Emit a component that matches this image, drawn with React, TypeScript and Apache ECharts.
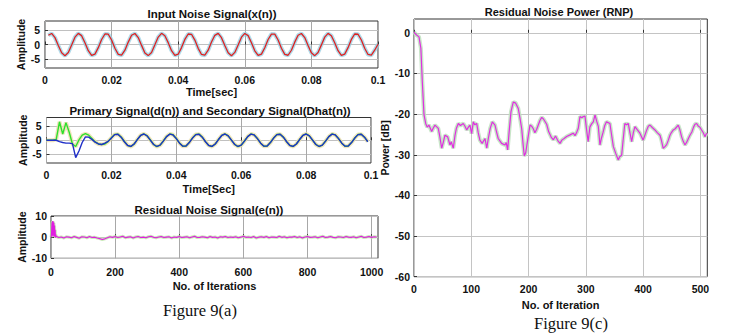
import React, { useEffect, useRef } from "react";
import * as echarts from "echarts";

// ---------- data ----------
// Input noise x(n), samples n = 1..100 (t = n/1000 s)
const inputNoise = [
  3.13, 3.76, 2.34, -0.34, -2.84, -3.8, -2.7, -0.14, 2.5, 3.78, 3.01, 0.61, -2.12, -3.71, -3.28, -1.08, 1.71, 3.57, 3.5, 1.53, -1.27, -3.38, -3.65, -1.95, 0.81,
  3.15, 3.74, 2.36, -0.3, -2.86, -3.78, -2.72, -0.12, 2.52, 3.8, 3.0, 0.63, -2.1, -3.72, -3.3, -1.06, 1.73, 3.58, 3.48, 1.5, -1.3, -3.4, -3.64, -1.93, 0.83,
  3.12, 3.77, 2.33, -0.35, -2.83, -3.81, -2.69, -0.15, 2.49, 3.77, 3.02, 0.6, -2.13, -3.7, -3.27, -1.09, 1.7, 3.56, 3.51, 1.54, -1.26, -3.37, -3.66, -1.96, 0.8,
  3.14, 3.75, 2.35, -0.32, -2.85, -3.79, -2.71, -0.13, 2.51, 3.79, 3.0, 0.62, -2.11, -3.71, -3.29, -1.07, 1.72, 3.57, 3.49, 1.52, -1.28, -3.39, -3.65, -1.94, 0.1,
];
// Primary signal d(n) (green), samples n = 0..99
const primarySignal = [
  0, 0, 0, 0.3, 6.5, 2.2, 6.2, 2.8, -1.3, -2.2, 0.1, 1.8, 2.3, 1.8, 0.6, -0.6, -1.3, -1.5, -1.3, -0.4,
  0.85, 2.05, 2.15, 1.15, -0.45,
  -1.8, -2.22, -1.35, 0.3, 1.72, 2.25, 1.58, 0.08, -1.45, -2.24, -1.75, -0.25, 1.32, 2.2, 1.92, 0.62, -1.0, -2.12, -2.05, -0.78, 0.83, 2.03, 2.15, 1.12, -0.48,
  -1.82, -2.2, -1.33, 0.28, 1.7, 2.23, 1.56, 0.06, -1.47, -2.22, -1.74, -0.27, 1.3, 2.19, 1.9, 0.6, -1.02, -2.1, -2.03, -0.8, 0.81, 2.01, 2.13, 1.1, -0.5,
  -1.83, -2.19, -1.32, 0.27, 1.71, 2.22, 1.55, 0.05, -1.48, -2.21, -1.73, -0.28, 1.29, 2.18, 1.89, 0.59, -1.03, -2.09, -2.02, -0.81, 0.8, 2.0, 2.12, 1.09, -0.51,
];
// Secondary signal Dhat(n) (blue), samples n = 0..99
const secondarySignal = [
  0, 0, 0, 0, -0.5, -0.8, -1.0, -1.0, -1.2, -6.1, -3.8, -0.8, 1.2, 1.1, 0.3, -0.7, -1.3, -1.5, -1.0, -0.4,
  0.78, 1.98, 2.1, 1.08, -0.52,
  -1.84, -2.17, -1.31, 0.25, 1.68, 2.2, 1.53, 0.03, -1.49, -2.19, -1.71, -0.3, 1.27, 2.16, 1.87, 0.57, -1.04, -2.08, -2.0, -0.83, 0.78, 1.98, 2.1, 1.08, -0.52,
  -1.84, -2.17, -1.31, 0.25, 1.68, 2.2, 1.53, 0.03, -1.49, -2.19, -1.71, -0.3, 1.27, 2.16, 1.87, 0.57, -1.04, -2.08, -2.0, -0.83, 0.78, 1.98, 2.1, 1.08, -0.52,
  -1.84, -2.17, -1.31, 0.25, 1.68, 2.2, 1.53, 0.03, -1.49, -2.19, -1.71, -0.3, 1.27, 2.16, 1.87, 0.57, -1.04, -2.08, -2.0, -0.83, 0.78, 1.98, 2.1, 1.08, -0.52,
];
// Residual noise e(n): iterations 0..15
const residualTransient = [0, 0.5, 3.0, 7.0, 0.8, 7.6, 0.3, 7.4, 1.0, 6.8, 0.2, 5.5, 0.6, 3.5, -0.2, 1.2];
// Residual noise e(n): iterations 16, 24, ..., 1016
const residualNoise = [
  0.4, -0.2, 0.1, -0.4, 0.2, 0.0, -0.3, 0.3, -0.1, -0.5,
  0.2, 0.1, -0.3, 0.3, -0.2, 0.0, -0.4, -0.7, -1.1, -0.8,
  -0.3, 0.2, -0.1, 0.3, -0.2, 0.1, 0.4, -0.3, 0.0, 0.2,
  -0.4, 0.1, 0.3, -0.2, 0.0, -0.3, 0.2, 0.4, -0.1, -0.3,
  0.1, 0.3, -0.2, 0.0, 0.2, -0.4, 0.1, -0.1, 0.3, -0.2,
  0.0, 0.2, -0.3, 0.1, 0.4, -0.2, -0.1, 0.2, 0.0, -0.3,
  0.3, -0.1, 0.1, -0.4, 0.2, 0.0, 0.3, -0.2, 0.1, -0.1,
  0.2, -0.3, 0.0, 0.4, -0.1, 0.1, -0.2, 0.3, -0.4, 0.0,
  0.2, -0.1, 0.3, -0.3, 0.1, 0.0, -0.2, 0.4, -0.1, 0.2,
  -0.3, 0.1, 0.0, 0.3, -0.2, 0.2, -0.4, 0.1, 0.3, -0.1,
  0.0, 0.2, -0.3, 0.1, 0.4, -0.2, 0.0, 0.3, -0.1, -0.3,
  0.2, 0.1, -0.2, 0.3, 0.0, -0.1, 0.2, -0.3, 0.1, 0.4,
  -0.2, 0.0, 0.3, -0.1, 0.2, 0.1,
];
// Residual noise power (RNP)
const rnpIteration = [
  0, 4, 8.7, 12, 14.5, 17.5, 20.4, 23, 26, 30.9, 33, 36.6, 42.4, 45, 48.3, 51, 54, 58.8, 62.8, 65, 68.6, 71.6, 74, 77.4, 81, 86, 89, 92, 95, 97.7,
  100.6, 103.5, 106, 109.4, 112, 115, 119, 124, 127, 129.7, 133, 136.7, 141.4, 144, 147, 153, 158.8, 161, 163.5, 166, 169.3, 173.4, 177.5, 182, 185, 188, 190.5, 192.5, 195, 198.4,
  202.5, 205, 208.3, 211, 214, 220, 223, 226, 231.6, 235, 240, 243.3, 247, 251, 255, 258, 262, 266.5, 272.3, 278, 281, 284, 286.8, 289.7, 293, 295.6, 298.5, 301, 304, 307,
  310, 313, 316, 319, 321.7, 324.6, 327, 330, 333, 336, 342, 345, 348, 352, 356.6, 359, 362.5, 365, 368, 371, 374, 377, 380, 383, 385.7, 390, 394.4, 397, 400, 403,
  406, 409, 412, 416, 420.6, 425, 429.4, 432, 435, 438, 441, 444, 446.8, 449, 452.6, 456, 461.3, 464, 467.2, 470, 473, 476, 479, 481.7, 485, 488, 490.5, 493.4, 496, 499,
  502, 505, 508, 510, 512,
];
const rnpPower = [
  0.2, -0.5, -1, -3.8, -12, -20.2, -22.3, -23.2, -22.7, -24.3, -23.6, -22.7, -23.5, -25.5, -28.4, -27, -25.2, -25.6, -27.6, -26.8, -28.4, -25.2, -23.5, -22.3, -22.8, -22.3, -23, -23.9, -23.2, -22.7,
  -24.8, -21.9, -22.6, -22.3, -24.5, -26.4, -27.2, -26, -28.4, -26, -23.5, -21.9, -22.7, -24.3, -26, -27.2, -27.6, -27, -28.8, -24.5, -19.4, -17, -17.3, -18.6, -21, -23.6, -27.5, -30.3, -29.5, -26.4,
  -22.7, -22.9, -23.6, -24.6, -23.8, -21.5, -20.8, -21.2, -22.5, -24.3, -25.8, -26.3, -25.4, -26.5, -27.2, -26.4, -26, -25.5, -25.1, -24.7, -25.3, -24.5, -23.5, -20.6, -20.9, -20.6, -20.5, -23.5, -26.8, -23.2,
  -22.4, -21.9, -20.2, -21.8, -23, -27.6, -26, -24.5, -22.8, -21.9, -22.3, -25.2, -28, -29.6, -31.3, -30.5, -30.1, -26.5, -22.3, -22.6, -22.3, -24.6, -26.8, -24.5, -23.1, -23.9, -24.7, -25.5, -26.4, -25.2,
  -24, -23, -22.7, -23.3, -23.9, -24.6, -25.2, -26.5, -28.4, -28, -27.5, -26.4, -25.2, -24.6, -23.9, -23.6, -22.7, -23.8, -25.6, -26.7, -27.6, -26.9, -26, -25.2, -24.4, -23.2, -22.5, -22.3, -22.9, -23.2,
  -23.9, -24.6, -25.6, -24.9, -24.7,
];
// Tick labels
const timeTicks = [0, 0.02, 0.04, 0.06, 0.08, 0.1];
const ampTicks = [-5, 0, 5];
const iterTicks = [0, 200, 400, 600, 800, 1000];
const residualAmpTicks = [-10, 0, 10];
const rnpIterTicks = [0, 100, 200, 300, 400, 500];
const rnpDbTicks = [-60, -50, -40, -30, -20, -10, 0];

// ---------- styling helpers ----------
const SANS = "'Liberation Sans', Arial, Helvetica, sans-serif";
const SERIF = "'Liberation Serif', 'Times New Roman', serif";
const TXT = "#111";
const fmt = (v: number) => String(v);

function xAxisCfg(gridIndex: number, max: number, ticks: number[], name: string, margin: number, nameGap: number, grid: string) {
  return {
    type: "value",
    gridIndex,
    min: 0,
    max,
    name,
    nameLocation: "middle",
    nameGap,
    nameTextStyle: { fontFamily: SANS, fontWeight: "bold", fontSize: 11, color: TXT },
    axisLine: { show: false },
    axisTick: { show: true, inside: true, length: 3, customValues: ticks, lineStyle: { color: "#333" } },
    axisLabel: { customValues: ticks, formatter: fmt, margin, fontFamily: SANS, fontWeight: "bold", fontSize: 10.5, color: TXT },
    splitLine: { show: true, lineStyle: { color: grid, width: 1 } },
  };
}
function yAxisCfg(gridIndex: number, min: number, max: number, ticks: number[], name: string, margin: number, nameGap: number, grid: string) {
  return {
    type: "value",
    gridIndex,
    min,
    max,
    name,
    nameLocation: "middle",
    nameGap,
    nameTextStyle: { fontFamily: SANS, fontWeight: "bold", fontSize: 10.5, color: TXT },
    axisLine: { show: false },
    axisTick: { show: true, inside: true, length: 3, customValues: ticks, lineStyle: { color: "#333" } },
    axisLabel: { customValues: ticks, formatter: fmt, margin, fontFamily: SANS, fontWeight: "bold", fontSize: 10.5, color: TXT },
    splitLine: { show: true, lineStyle: { color: grid, width: 1 } },
  };
}
function lineSeries(idx: number, data: number[][], color: string, width: number, z: number) {
  return {
    type: "line",
    xAxisIndex: idx,
    yAxisIndex: idx,
    data,
    showSymbol: false,
    symbol: "none",
    silent: z < 3,
    z,
    lineStyle: { color, width },
    clip: true,
  };
}
function label(text: string, x: number, y: number, size: number, font: string, bold: boolean) {
  return {
    type: "text",
    x,
    y,
    silent: true,
    style: {
      text,
      fill: TXT,
      fontSize: size,
      fontFamily: font,
      fontWeight: bold ? "bold" : "normal",
      align: "center",
      verticalAlign: "middle",
      textAlign: "center",
      textVerticalAlign: "middle",
    },
  };
}

export default function App() {
  const ref = useRef<HTMLDivElement>(null);
  useEffect(() => {
    if (!ref.current) return;
    const chart = echarts.init(ref.current, undefined, { renderer: "svg" });

    const xData = inputNoise.map((v, i) => [(i + 1) / 1000, v]);
    const dData = primarySignal.map((v, i) => [i / 1000, v]);
    const dhData = secondarySignal.map((v, i) => [i / 1000, v]);
    const eData = residualTransient
      .map((v, i) => [i, v])
      .concat(residualNoise.map((v, i) => [16 + 8 * i, v]));
    const rnpData = rnpIteration.map((x, i) => [x, rnpPower[i]]);

    const gridBase = { show: true, borderColor: "#333", borderWidth: 1, backgroundColor: "#fff", containLabel: false };

    chart.setOption({
      animation: false,
      backgroundColor: "#fff",
      grid: [
        { ...gridBase, left: 45, top: 21, width: 333, height: 47 },
        { ...gridBase, left: 46.5, top: 117.5, width: 324.5, height: 45.5 },
        { ...gridBase, left: 51, top: 216, width: 327, height: 42.3 },
        { ...gridBase, left: 414, top: 19, width: 293.3, height: 257.7 },
      ],
      xAxis: [
        xAxisCfg(0, 0.1, timeTicks, "Time[sec]", 6, 18, "#a8a8a8"),
        xAxisCfg(1, 0.1, timeTicks, "Time[Sec]", 6, 20, "#a8a8a8"),
        xAxisCfg(2, 1020, iterTicks, "No. of Iterations", 8, 22, "#a8a8a8"),
        xAxisCfg(3, 512, rnpIterTicks, "No. of Iteration", 7, 20, "#c4c4c4"),
      ],
      yAxis: [
        yAxisCfg(0, -8, 8, ampTicks, "Amplitude", 5, 18, "#c0c0c0"),
        yAxisCfg(1, -8, 8, ampTicks, "Amplitude", 5, 18, "#c0c0c0"),
        yAxisCfg(2, -10, 10, residualAmpTicks, "Amplitude", 4, 20, "#c0c0c0"),
        yAxisCfg(3, -60, 3.4, rnpDbTicks, "Power [dB]", 4, 24, "#c4c4c4"),
      ],
      series: [
        lineSeries(0, xData, "rgba(150,205,225,0.75)", 4, 2),
        lineSeries(0, xData, "#dd2222", 1.3, 3),
        lineSeries(1, dData, "rgba(235,220,170,0.8)", 4, 2),
        lineSeries(1, dData, "#2ee02e", 1.4, 3),
        lineSeries(1, dhData, "#1f2fc8", 1.4, 4),
        lineSeries(2, eData, "rgba(190,230,170,0.8)", 3, 2),
        lineSeries(2, eData, "#e01ee0", 1.1, 3),
        lineSeries(3, rnpData, "rgba(190,225,190,0.85)", 4, 2),
        lineSeries(3, rnpData, "#e02ee0", 1.2, 3),
      ],
      graphic: [
        label("Input Noise Signal(x(n))", 212, 14, 11.5, SANS, true),
        label("Primary Signal(d(n)) and Secondary Signal(Dhat(n))", 210, 110.5, 11.5, SANS, true),
        label("Residual Noise Signal(e(n))", 209, 209.5, 11.5, SANS, true),
        label("Residual Noise Power (RNP)", 559, 12, 11, SANS, true),
        label("Figure 9(a)", 200, 310, 16.5, SERIF, false),
        label("Figure 9(c)", 571, 323, 16.5, SERIF, false),
      ],
    });
    return () => chart.dispose();
  }, []);
  return (
    <div
      ref={ref}
      style={{ position: "absolute", left: 0, top: 0, width: 729, height: 334 }}
    />
  );
}
